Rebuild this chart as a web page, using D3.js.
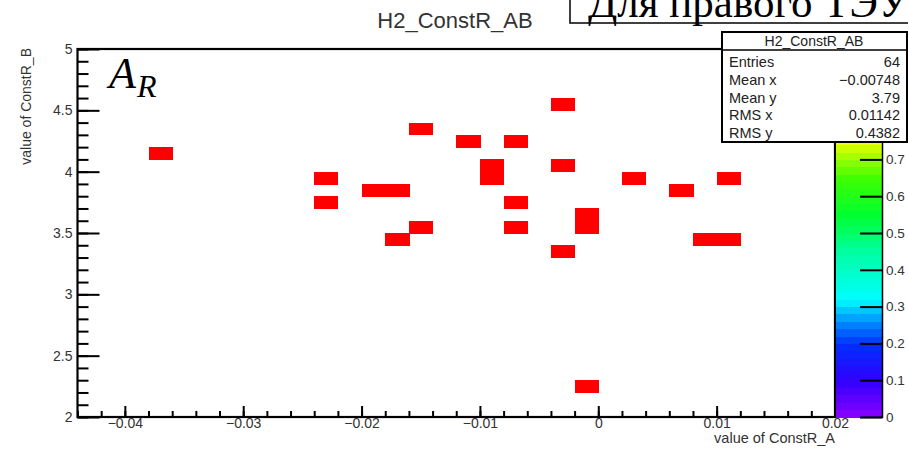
<!DOCTYPE html>
<meta charset="utf-8">
<script src="https://d3js.org/d3.v7.min.js"></script>
<style>
  body { margin: 0; background: #fff; }
  text { font-family: "Liberation Sans", Arial, sans-serif; }
</style>
<svg id="chart" width="908" height="450"></svg>

<script>
  // filled bins of H2_ConstR_AB (bin centres, bin size 0.002 x 0.1)
  var cellX = [-0.037, -0.023, -0.023, -0.019, -0.017, -0.017, -0.015, -0.015, -0.011,
               -0.009, -0.009, -0.007, -0.007, -0.007, -0.003, -0.003, -0.003,
               -0.001, -0.001, -0.001, 0.003, 0.007, 0.009, 0.011, 0.011];
  var cellY = [4.15, 3.95, 3.75, 3.85, 3.85, 3.45, 4.35, 3.55, 4.25,
               4.05, 3.95, 4.25, 3.75, 3.55, 4.55, 4.05, 3.35,
               3.65, 3.55, 2.25, 3.95, 3.85, 3.45, 3.45, 3.95];
  var binW = 0.002, binH = 0.1;

  var xTicks = [-0.04, -0.03, -0.02, -0.01, 0, 0.01, 0.02];
  var xLabels = ["\u22120.04", "\u22120.03", "\u22120.02", "\u22120.01", "0", "0.01", "0.02"];
  var yTicks = [2, 2.5, 3, 3.5, 4, 4.5, 5];
  var yLabels = ["2", "2.5", "3", "3.5", "4", "4.5", "5"];
  // colour axis ticks (0.8 - 1 sit under the stats box)
  var zTicks = [0, 0.1, 0.2, 0.3, 0.4, 0.5, 0.6, 0.7];

  var statNames = ["Entries", "Mean x", "Mean y", "RMS x", "RMS y"];
  var statValues = ["64", "\u22120.00748", "3.79", "0.01142", "0.4382"];

  var svg = d3.select("#chart");

  var x = d3.scaleLinear().domain([-0.044, 0.02]).range([77.5, 835]);
  var y = d3.scaleLinear().domain([2, 5]).range([417, 49]);
  var z = d3.scaleLinear().domain([0, 1]).range([417, 49]);

  // old ROOT rainbow palette
  var pal = d3.scaleLinear()
      .domain([0, 0.1, 0.2, 0.26, 0.32, 0.45, 0.55, 0.65, 0.76, 0.88, 1])
      .range(["#8a00ff", "#3000ff", "#0030ff", "#0090ff", "#00ffff", "#00ffa0",
              "#00ff30", "#40ff00", "#ffff00", "#ff8000", "#ff0000"]);

  // cells
  svg.append("g")
      .attr("shape-rendering", "crispEdges")
    .selectAll("rect")
    .data(cellX.map(function(d, i) { return [d, cellY[i]]; }))
    .enter().append("rect")
      .attr("x", function(d) { return x(d[0] - binW / 2); })
      .attr("y", function(d) { return y(d[1] + binH / 2); })
      .attr("width", function(d) { return x(d[0] + binW / 2) - x(d[0] - binW / 2) + 0.6; })
      .attr("height", function(d) { return y(d[1] - binH / 2) - y(d[1] + binH / 2) + 0.6; })
      .attr("fill", pal(1));

  // x axis
  var xMinor = d3.range(-22, 11).map(function(i) { return i * 0.002; });
  svg.append("g")
      .attr("transform", "translate(0,417)")
      .call(d3.axisBottom(x).tickValues(xMinor).tickSize(-6).tickFormat(""))
      .call(function(g) { g.select(".domain").remove(); });
  svg.append("g")
      .attr("transform", "translate(0,417)")
      .call(d3.axisBottom(x).tickValues(xTicks).tickSize(-11).tickPadding(1)
        .tickFormat(function(d, i) { return xLabels[i]; }))
      .call(function(g) { g.select(".domain").remove(); });

  // y axis
  var yMinor = d3.range(20, 51).map(function(i) { return i / 10; });
  svg.append("g")
      .attr("transform", "translate(77.5,0)")
      .call(d3.axisLeft(y).tickValues(yMinor).tickSize(-11).tickFormat(""))
      .call(function(g) { g.select(".domain").remove(); });
  svg.append("g")
      .attr("transform", "translate(77.5,0)")
      .call(d3.axisLeft(y).tickValues(yTicks).tickSize(-22).tickPadding(5)
        .tickFormat(function(d, i) { return yLabels[i]; }))
      .call(function(g) { g.select(".domain").remove(); });

  svg.selectAll(".tick line").attr("stroke", "#000").attr("stroke-width", 2);
  svg.selectAll(".tick text").attr("font-size", 14).attr("fill", "#333")
      .style("font-family", "'Liberation Sans', Arial, sans-serif");

  // frame
  svg.append("rect")
      .attr("x", 77.5).attr("y", 49)
      .attr("width", 835 - 77.5).attr("height", 417 - 49)
      .attr("fill", "none").attr("stroke", "#000").attr("stroke-width", 2.2);

  // colour bar
  var bands = d3.range(50).map(function(i) { return i / 50; });
  svg.append("g")
      .attr("shape-rendering", "crispEdges")
    .selectAll("rect")
    .data(bands)
    .enter().append("rect")
      .attr("x", 836).attr("width", 46)
      .attr("y", function(d) { return z(d + 0.02); })
      .attr("height", function(d) { return z(d) - z(d + 0.02) + 0.5; })
      .attr("fill", function(d) { return pal(d + 0.01); });
  svg.append("g")
      .attr("transform", "translate(882,0)")
      .call(d3.axisRight(z).tickValues(zTicks).tickSize(-22).tickPadding(4)
        .tickFormat(function(d) { return d3.format("")(+d.toFixed(1)); }))
      .call(function(g) {
        g.select(".domain").attr("stroke", "#000").attr("stroke-width", 1.5);
        g.selectAll(".tick line").attr("stroke", "#000").attr("stroke-width", 2);
        g.selectAll(".tick text").attr("font-size", 13.5).attr("fill", "#333")
          .style("font-family", "'Liberation Sans', Arial, sans-serif");
      });

  // axis titles
  svg.append("text")
      .attr("x", 835).attr("y", 443)
      .attr("text-anchor", "end").attr("font-size", 14.5).attr("fill", "#333")
      .text("value of ConstR_A");
  svg.append("text")
      .attr("transform", "translate(31,48) rotate(-90)")
      .attr("text-anchor", "end").attr("font-size", 14).attr("fill", "#333")
      .text("value of ConstR_B");

  // title
  svg.append("text")
      .attr("x", 455).attr("y", 28)
      .attr("text-anchor", "middle").attr("font-size", 22).attr("fill", "#333")
      .text("H2_ConstR_AB");

  // stats box
  var sb = svg.append("g");
  sb.append("rect")
      .attr("x", 722).attr("y", 32).attr("width", 185).attr("height", 110)
      .attr("fill", "#fff").attr("stroke", "#000").attr("stroke-width", 2);
  sb.append("line")
      .attr("x1", 722).attr("x2", 907).attr("y1", 50).attr("y2", 50)
      .attr("stroke", "#000").attr("stroke-width", 1.5);
  sb.append("text")
      .attr("x", 814).attr("y", 46)
      .attr("text-anchor", "middle").attr("font-size", 14).attr("fill", "#222")
      .text("H2_ConstR_AB");
  var rowY = d3.scalePoint().domain(statNames).range([67, 138]);
  sb.selectAll(".sname")
    .data(statNames)
    .enter().append("text")
      .attr("x", 729).attr("y", function(d) { return rowY(d); })
      .attr("font-size", 14.5).attr("fill", "#222")
      .text(function(d) { return d; });
  sb.selectAll(".sval")
    .data(statValues)
    .enter().append("text")
      .attr("x", 900).attr("y", function(d, i) { return rowY(statNames[i]); })
      .attr("text-anchor", "end").attr("font-size", 14.5).attr("fill", "#222")
      .text(function(d) { return d; });

  // caption box at the top, cut by the picture edge
  svg.append("rect")
      .attr("x", 570).attr("y", -10).attr("width", 360).attr("height", 33)
      .attr("fill", "#fff").attr("stroke", "#000").attr("stroke-width", 1.5);
  svg.append("text")
      .attr("x", 588).attr("y", 17)
      .attr("font-size", 43)
      .style("font-family", "'Liberation Serif', 'Times New Roman', serif")
      .text("Для правого ТЭУ");

  // A_R label
  var lab = svg.append("text")
      .attr("x", 109).attr("y", 88)
      .style("font-family", "'Liberation Serif', 'Times New Roman', serif")
      .style("font-style", "italic");
  lab.append("tspan").attr("font-size", 44).text("A");
  lab.append("tspan").attr("font-size", 32).attr("dy", 9).attr("dx", 1).text("R");
</script>
